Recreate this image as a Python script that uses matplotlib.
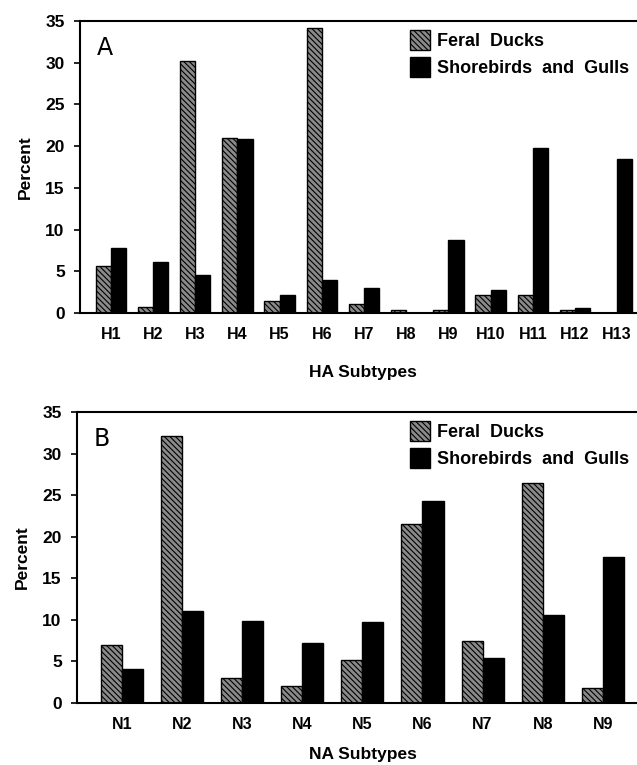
import matplotlib.pyplot as plt
import numpy as np
from matplotlib.patches import Patch

plt.rcParams['font.family'] = ['Liberation Sans', 'DejaVu Sans']
plt.rcParams['hatch.linewidth'] = 0.8

# panel A: HA subtypes
ha_labels = ['H1', 'H2', 'H3', 'H4', 'H5', 'H6', 'H7', 'H8', 'H9', 'H10', 'H11', 'H12', 'H13']
ha_ducks = [5.6, 0.7, 30.2, 21.0, 1.4, 34.2, 1.1, 0.3, 0.3, 2.1, 2.2, 0.4, 0.0]
ha_shore = [7.8, 6.1, 4.5, 20.8, 2.2, 4.0, 3.0, 0.0, 8.8, 2.8, 19.8, 0.6, 18.5]

# panel B: NA subtypes
na_labels = ['N1', 'N2', 'N3', 'N4', 'N5', 'N6', 'N7', 'N8', 'N9']
na_ducks = [7.0, 32.1, 3.0, 2.0, 5.2, 21.5, 7.4, 26.5, 1.8]
na_shore = [4.1, 11.1, 9.9, 7.2, 9.8, 24.3, 5.4, 10.6, 17.6]

fig = plt.figure(figsize=(6.37, 7.65), dpi=100)
W, H = 637.0, 765.0

def panel(rect, labels, ducks, shore, width, xlim, letter, xlabel, xlabel_y):
    ax = fig.add_axes(rect)
    x = np.arange(len(labels))
    ax.bar(x - width / 2, ducks, width, facecolor='#8a8a8a', edgecolor='black',
           hatch='\\\\\\\\\\\\', linewidth=1.0)
    ax.bar(x + width / 2, shore, width, facecolor='black', edgecolor='black', linewidth=1.0)
    ax.set_xlim(xlim)
    ax.set_ylim(0, 35)
    ax.set_yticks(range(0, 36, 5))
    ax.set_xticks(x)
    ax.set_xticklabels(labels, fontsize=11.5, fontweight='bold')
    for t in ax.get_yticklabels():
        t.set_fontsize(12.5)
        t.set_fontweight('bold')
    ax.tick_params(axis='x', length=0, pad=10)
    ax.tick_params(axis='y', length=4, width=1.2, direction='out', pad=7)
    ax.spines['right'].set_visible(False)
    for s in ['left', 'top', 'bottom']:
        ax.spines[s].set_linewidth(1.5)
    ax.set_ylabel('Percent', fontsize=12.5, fontweight='bold', labelpad=9)
    ax.text(0.03, 0.95, letter, transform=ax.transAxes, fontsize=17,
            ha='left', va='top', family='DejaVu Sans')
    handles = [Patch(facecolor='#8a8a8a', edgecolor='black', hatch='\\\\\\\\\\\\'),
               Patch(facecolor='black', edgecolor='black')]
    ax.legend(handles, ['Feral  Ducks', 'Shorebirds  and  Gulls'], loc='upper right',
              bbox_to_anchor=(1.015, 1.025), frameon=False,
              prop={'size': 13, 'weight': 'bold'}, handlelength=1.1, handleheight=1.3,
              handletextpad=0.4, labelspacing=0.4)
    fig.text(363 / W, 1 - xlabel_y / H, xlabel, fontsize=12.5, fontweight='bold',
             ha='center', va='center')
    return ax

panel([80 / W, 1 - 313 / H, (W - 80) / W, 292 / H], ha_labels, ha_ducks, ha_shore,
      0.36, (-0.73, 12.47), 'A', 'HA Subtypes', 372)
panel([77 / W, 1 - 703 / H, (W - 77) / W, 291 / H], na_labels, na_ducks, na_shore,
      0.35, (-0.75, 8.57), 'B', 'NA Subtypes', 755)

fig.savefig('out.png', dpi=100)
